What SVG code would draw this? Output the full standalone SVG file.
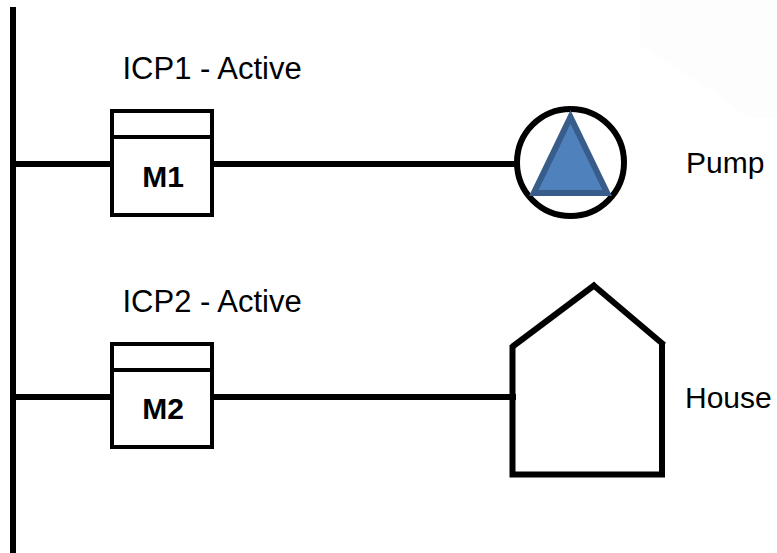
<svg xmlns="http://www.w3.org/2000/svg" width="777" height="553" viewBox="0 0 777 553">
<style>
.l{fill:none;stroke:#000;stroke-width:6}
.b{fill:#fff;stroke:#000;stroke-width:4}
.t{font-family:"Liberation Sans",Arial,sans-serif;font-size:30px;fill:#000}
.i{font-size:31px}
.m{font-weight:bold;text-anchor:middle}
</style>
<rect width="777" height="553" fill="#fff"/>
<polygon points="686,0 777,0 777,118 748,118 725,100 698,82 676,68 656,55 640,45 640,0" fill="#fdfdfd"/>
<g id="connectors">
<path class="l" d="M13 7V553"/>
<path class="l" d="M13 164H112"/>
<path class="l" d="M212 164H516"/>
<path class="l" d="M13 397H112"/>
<path class="l" d="M212 397H516"/>
</g>
<g id="m1"><rect class="b" x="112" y="111" width="100" height="104"/><path class="b" d="M112 137H212"/><text class="t m" x="163" y="187">M1</text></g>
<g id="m2"><rect class="b" x="112" y="344" width="100" height="103"/><path class="b" d="M112 370H212"/><text class="t m" x="163" y="419">M2</text></g>
<g id="pump">
<circle cx="570.5" cy="162.5" r="53.5" fill="#fff" stroke="#000" stroke-width="6"/>
<polygon points="570.5,117 607.2,193 533.8,193" fill="#4f81bd" stroke="#385d8a" stroke-width="6"/>
<text class="t" x="686" y="173">Pump</text>
</g>
<g id="house">
<path class="l" d="M512.5 345V474.5H662V343"/>
<path class="l" d="M512 347L596 284"/>
<path class="l" d="M592 284L664 345"/>
<text class="t" x="685" y="408">House</text>
</g>
<g id="labels">
<text class="t i" x="122.5" y="79">ICP1 - Active</text>
<text class="t i" x="122.5" y="312">ICP2 - Active</text>
</g>
</svg>
